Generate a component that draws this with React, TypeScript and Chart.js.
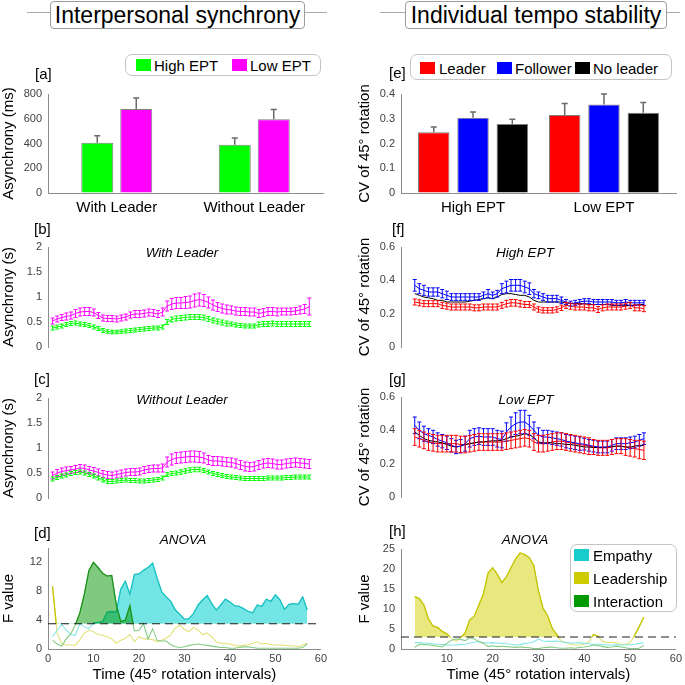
import React, { useEffect, useRef } from "react";
import { Chart, registerables } from "chart.js";

Chart.register(...registerables);

const FONT_FAMILY = "'Liberation Sans', Arial, Helvetica, sans-serif";
Chart.defaults.font.family = FONT_FAMILY;

// ---------------- data ----------------
const BAR_A_CATEGORIES = ["With Leader", "Without Leader"];
const BAR_A_HIGH = [406, 390];
const BAR_A_HIGH_ERR = [56, 55];
const BAR_A_LOW = [678, 595];
const BAR_A_LOW_ERR = [90, 80];
const BAR_A_YTICKS = [0, 200, 400, 600, 800];

const BAR_E_CATEGORIES = ["High EPT", "Low EPT"];
const BAR_E_POSITIONS = [1, 2];
const BAR_E_LEADER = [0.245, 0.315];
const BAR_E_LEADER_ERR = [0.022, 0.047];
const BAR_E_FOLLOWER = [0.304, 0.358];
const BAR_E_FOLLOWER_ERR = [0.023, 0.042];
const BAR_E_NOLEADER = [0.279, 0.324];
const BAR_E_NOLEADER_ERR = [0.019, 0.042];
const BAR_E_YTICKS = [0, 0.1, 0.2, 0.3, 0.4];

const TIME_LEFT = [1, 2, 3, 4, 5, 6, 7, 8, 9, 10, 11, 12, 13, 14, 15, 16, 17, 18, 19, 20, 21, 22, 23, 24, 25, 26, 27, 28, 29, 30, 31, 32, 33, 34, 35, 36, 37, 38, 39, 40, 41, 42, 43, 44, 45, 46, 47, 48, 49, 50, 51, 52, 53, 54, 55, 56, 57];
const TIME_RIGHT = [3, 4, 5, 6, 7, 8, 9, 10, 11, 12, 13, 14, 15, 16, 17, 18, 19, 20, 21, 22, 23, 24, 25, 26, 27, 28, 29, 30, 31, 32, 33, 34, 35, 36, 37, 38, 39, 40, 41, 42, 43, 44, 45, 46, 47, 48, 49, 50, 51, 52, 53];

// [b] With Leader
const B_LOW_MEAN = [0.52, 0.56, 0.59, 0.61, 0.63, 0.67, 0.70, 0.71, 0.71, 0.69, 0.63, 0.58, 0.57, 0.57, 0.56, 0.58, 0.60, 0.64, 0.66, 0.66, 0.67, 0.69, 0.68, 0.66, 0.70, 0.82, 0.86, 0.88, 0.88, 0.89, 0.90, 0.93, 0.95, 0.93, 0.89, 0.84, 0.80, 0.77, 0.75, 0.74, 0.72, 0.71, 0.71, 0.70, 0.70, 0.67, 0.69, 0.71, 0.71, 0.70, 0.71, 0.71, 0.71, 0.72, 0.74, 0.76, 0.81];
const B_LOW_ERR = [0.06, 0.06, 0.06, 0.07, 0.07, 0.08, 0.08, 0.08, 0.08, 0.07, 0.06, 0.06, 0.06, 0.06, 0.06, 0.06, 0.06, 0.06, 0.07, 0.07, 0.07, 0.07, 0.07, 0.07, 0.08, 0.10, 0.11, 0.11, 0.11, 0.12, 0.12, 0.13, 0.13, 0.12, 0.11, 0.10, 0.09, 0.09, 0.09, 0.08, 0.08, 0.08, 0.08, 0.08, 0.08, 0.08, 0.08, 0.08, 0.08, 0.08, 0.07, 0.07, 0.07, 0.07, 0.08, 0.09, 0.17];
const B_HIGH_MEAN = [0.38, 0.40, 0.42, 0.45, 0.47, 0.48, 0.46, 0.45, 0.43, 0.40, 0.37, 0.33, 0.31, 0.30, 0.30, 0.31, 0.32, 0.33, 0.34, 0.35, 0.36, 0.37, 0.38, 0.38, 0.40, 0.50, 0.55, 0.57, 0.58, 0.59, 0.60, 0.60, 0.60, 0.59, 0.56, 0.53, 0.51, 0.49, 0.47, 0.46, 0.44, 0.43, 0.42, 0.42, 0.42, 0.45, 0.46, 0.46, 0.47, 0.46, 0.46, 0.46, 0.46, 0.46, 0.46, 0.46, 0.46];
const B_HIGH_ERR = [0.04, 0.04, 0.04, 0.04, 0.04, 0.04, 0.04, 0.04, 0.04, 0.04, 0.04, 0.04, 0.035, 0.035, 0.035, 0.035, 0.04, 0.04, 0.04, 0.04, 0.04, 0.04, 0.04, 0.04, 0.04, 0.05, 0.05, 0.05, 0.05, 0.05, 0.05, 0.05, 0.05, 0.05, 0.05, 0.05, 0.05, 0.05, 0.05, 0.04, 0.04, 0.04, 0.04, 0.04, 0.04, 0.05, 0.05, 0.05, 0.05, 0.05, 0.05, 0.05, 0.05, 0.05, 0.05, 0.05, 0.05];

// [c] Without Leader
const C_LOW_MEAN = [0.45, 0.50, 0.53, 0.55, 0.56, 0.58, 0.60, 0.59, 0.56, 0.54, 0.51, 0.48, 0.46, 0.45, 0.47, 0.49, 0.51, 0.52, 0.52, 0.53, 0.56, 0.58, 0.59, 0.59, 0.60, 0.72, 0.77, 0.80, 0.81, 0.82, 0.83, 0.83, 0.82, 0.80, 0.76, 0.74, 0.74, 0.73, 0.72, 0.71, 0.69, 0.66, 0.63, 0.62, 0.63, 0.66, 0.69, 0.70, 0.69, 0.67, 0.67, 0.69, 0.70, 0.71, 0.70, 0.69, 0.68];
const C_LOW_ERR = [0.07, 0.07, 0.07, 0.07, 0.07, 0.07, 0.07, 0.07, 0.07, 0.07, 0.07, 0.07, 0.07, 0.07, 0.07, 0.07, 0.07, 0.07, 0.07, 0.07, 0.07, 0.07, 0.07, 0.07, 0.08, 0.10, 0.11, 0.11, 0.11, 0.11, 0.11, 0.11, 0.11, 0.10, 0.09, 0.09, 0.09, 0.09, 0.09, 0.09, 0.09, 0.09, 0.09, 0.09, 0.09, 0.09, 0.09, 0.09, 0.09, 0.09, 0.09, 0.09, 0.09, 0.09, 0.09, 0.09, 0.09];
const C_HIGH_MEAN = [0.38, 0.41, 0.44, 0.46, 0.49, 0.51, 0.52, 0.50, 0.47, 0.44, 0.40, 0.36, 0.33, 0.33, 0.34, 0.35, 0.36, 0.35, 0.35, 0.34, 0.34, 0.35, 0.36, 0.37, 0.40, 0.47, 0.49, 0.50, 0.52, 0.54, 0.56, 0.57, 0.57, 0.55, 0.52, 0.49, 0.47, 0.45, 0.43, 0.42, 0.41, 0.40, 0.39, 0.39, 0.39, 0.39, 0.39, 0.40, 0.40, 0.40, 0.40, 0.41, 0.41, 0.42, 0.42, 0.42, 0.42];
const C_HIGH_ERR = [0.04, 0.04, 0.04, 0.04, 0.04, 0.04, 0.04, 0.04, 0.04, 0.04, 0.04, 0.04, 0.04, 0.04, 0.04, 0.04, 0.04, 0.04, 0.04, 0.04, 0.04, 0.04, 0.04, 0.04, 0.04, 0.04, 0.04, 0.04, 0.045, 0.045, 0.045, 0.045, 0.045, 0.04, 0.04, 0.04, 0.04, 0.04, 0.04, 0.04, 0.04, 0.04, 0.04, 0.04, 0.04, 0.04, 0.04, 0.04, 0.04, 0.04, 0.04, 0.04, 0.04, 0.04, 0.04, 0.04, 0.04];

// [d] ANOVA (left)
const D_THRESHOLD = 3.5;
const D_EMPATHY = [1.7, 2.6, 3.4, 2.6, 2.0, 1.9, 3.5, 3.1, 2.8, 3.6, 3.7, 3.8, 5.1, 5.2, 5.1, 8.3, 9.4, 7.6, 10.3, 10.4, 10.9, 11.3, 11.9, 9.8, 7.9, 7.2, 6.6, 5.4, 4.8, 4.1, 4.2, 4.9, 6.1, 6.8, 7.4, 6.3, 5.4, 6.1, 6.9, 6.5, 6.0, 5.9, 5.6, 5.2, 5.0, 6.1, 5.9, 6.9, 6.6, 7.5, 6.8, 5.5, 6.2, 6.3, 6.2, 7.2, 5.4];
const D_LEADERSHIP = [8.7, 2.2, 0.8, 0.55, 0.55, 0.5, 1.3, 2.2, 2.6, 2.4, 2.0, 1.9, 1.7, 1.4, 0.8, 1.2, 1.5, 2.0, 1.0, 1.7, 1.4, 1.4, 1.3, 1.0, 1.2, 1.5, 2.0, 2.9, 3.3, 2.7, 2.4, 3.0, 2.6, 2.0, 2.2, 1.7, 1.0, 0.8, 0.8, 0.7, 0.5, 0.4, 0.5, 0.6, 0.8, 1.0, 0.7, 0.8, 0.6, 0.55, 0.55, 0.5, 0.45, 0.45, 0.3, 0.55, 0.8];
const D_INTERACTION = [1.2, 0.7, 0.4, 1.4, 2.1, 3.3, 5.0, 7.6, 10.9, 12.0, 11.3, 10.5, 10.1, 10.2, 6.2, 3.8, 4.0, 6.0, 2.5, 2.6, 3.5, 1.4, 2.8, 1.2, 1.1, 1.1, 0.6, 0.3, 0.2, 0.3, 0.5, 0.6, 0.7, 0.6, 0.5, 0.4, 0.3, 0.2, 0.2, 0.1, 0.1, 0.2, 0.3, 0.3, 0.2, 0.1, 0.1, 0.1, 0.1, 0.1, 0.1, 0.1, 0.1, 0.1, 0.1, 0.2, 0.7];
const D_YTICKS = [0, 4, 8, 12];

// [f] High EPT (right)
const F_LEADER = [0.27, 0.265, 0.26, 0.26, 0.26, 0.26, 0.25, 0.245, 0.24, 0.24, 0.24, 0.24, 0.24, 0.235, 0.235, 0.24, 0.24, 0.24, 0.24, 0.25, 0.26, 0.265, 0.265, 0.26, 0.255, 0.255, 0.24, 0.225, 0.22, 0.22, 0.22, 0.225, 0.235, 0.25, 0.245, 0.24, 0.24, 0.24, 0.235, 0.235, 0.225, 0.235, 0.24, 0.24, 0.24, 0.24, 0.245, 0.25, 0.235, 0.235, 0.23];
const F_LEADER_ERR = [0.018, 0.018, 0.018, 0.018, 0.018, 0.018, 0.018, 0.018, 0.018, 0.018, 0.018, 0.018, 0.018, 0.018, 0.018, 0.018, 0.018, 0.018, 0.018, 0.018, 0.02, 0.02, 0.02, 0.02, 0.018, 0.018, 0.018, 0.016, 0.016, 0.016, 0.016, 0.016, 0.016, 0.018, 0.018, 0.018, 0.018, 0.018, 0.018, 0.018, 0.018, 0.018, 0.018, 0.018, 0.018, 0.018, 0.018, 0.018, 0.018, 0.018, 0.018];
const F_FOLLOWER = [0.37, 0.35, 0.34, 0.33, 0.33, 0.33, 0.32, 0.31, 0.30, 0.30, 0.30, 0.30, 0.30, 0.30, 0.30, 0.31, 0.32, 0.31, 0.32, 0.35, 0.36, 0.37, 0.37, 0.37, 0.36, 0.35, 0.32, 0.31, 0.30, 0.29, 0.29, 0.29, 0.28, 0.27, 0.26, 0.265, 0.27, 0.275, 0.275, 0.27, 0.27, 0.27, 0.27, 0.27, 0.265, 0.265, 0.27, 0.265, 0.265, 0.265, 0.265];
const F_FOLLOWER_ERR = [0.035, 0.03, 0.03, 0.025, 0.025, 0.025, 0.025, 0.025, 0.02, 0.02, 0.02, 0.02, 0.02, 0.02, 0.02, 0.02, 0.025, 0.02, 0.02, 0.03, 0.035, 0.035, 0.035, 0.035, 0.035, 0.035, 0.025, 0.02, 0.02, 0.02, 0.02, 0.02, 0.02, 0.015, 0.015, 0.015, 0.015, 0.015, 0.015, 0.015, 0.015, 0.015, 0.015, 0.015, 0.015, 0.015, 0.015, 0.015, 0.015, 0.015, 0.015];
const F_NOLEADER = [0.32, 0.31, 0.30, 0.295, 0.29, 0.28, 0.28, 0.27, 0.27, 0.27, 0.27, 0.27, 0.275, 0.28, 0.285, 0.29, 0.295, 0.29, 0.30, 0.315, 0.32, 0.32, 0.315, 0.31, 0.31, 0.30, 0.28, 0.27, 0.27, 0.27, 0.27, 0.27, 0.27, 0.265, 0.26, 0.26, 0.26, 0.26, 0.255, 0.255, 0.255, 0.255, 0.255, 0.25, 0.25, 0.25, 0.25, 0.25, 0.25, 0.255, 0.255];

// [g] Low EPT (right)
const G_LEADER = [0.36, 0.35, 0.34, 0.33, 0.325, 0.32, 0.32, 0.32, 0.32, 0.32, 0.315, 0.315, 0.32, 0.325, 0.33, 0.33, 0.33, 0.33, 0.33, 0.33, 0.335, 0.34, 0.345, 0.35, 0.355, 0.35, 0.33, 0.32, 0.32, 0.325, 0.33, 0.335, 0.335, 0.33, 0.325, 0.32, 0.315, 0.31, 0.305, 0.30, 0.295, 0.295, 0.295, 0.30, 0.305, 0.305, 0.30, 0.295, 0.29, 0.285, 0.28];
const G_LEADER_ERR = [0.05, 0.05, 0.05, 0.05, 0.05, 0.05, 0.05, 0.05, 0.05, 0.05, 0.05, 0.05, 0.05, 0.05, 0.05, 0.05, 0.05, 0.05, 0.05, 0.05, 0.05, 0.05, 0.05, 0.05, 0.05, 0.05, 0.05, 0.05, 0.05, 0.05, 0.05, 0.05, 0.05, 0.05, 0.05, 0.05, 0.05, 0.05, 0.05, 0.045, 0.045, 0.045, 0.045, 0.045, 0.045, 0.045, 0.05, 0.05, 0.05, 0.055, 0.055];
const G_FOLLOWER = [0.43, 0.40, 0.38, 0.37, 0.36, 0.345, 0.335, 0.325, 0.31, 0.30, 0.305, 0.32, 0.35, 0.36, 0.365, 0.36, 0.36, 0.36, 0.35, 0.345, 0.39, 0.42, 0.44, 0.45, 0.45, 0.43, 0.40, 0.37, 0.36, 0.36, 0.355, 0.35, 0.345, 0.335, 0.33, 0.325, 0.32, 0.317, 0.31, 0.305, 0.30, 0.30, 0.30, 0.31, 0.32, 0.32, 0.32, 0.325, 0.33, 0.34, 0.35];
const G_FOLLOWER_ERR = [0.05, 0.05, 0.045, 0.04, 0.04, 0.04, 0.04, 0.04, 0.04, 0.04, 0.04, 0.045, 0.05, 0.05, 0.05, 0.05, 0.05, 0.05, 0.05, 0.05, 0.055, 0.06, 0.065, 0.07, 0.07, 0.06, 0.05, 0.045, 0.04, 0.04, 0.04, 0.04, 0.04, 0.04, 0.04, 0.04, 0.04, 0.035, 0.035, 0.035, 0.035, 0.035, 0.035, 0.035, 0.035, 0.035, 0.035, 0.035, 0.035, 0.035, 0.035];
const G_NOLEADER = [0.39, 0.37, 0.35, 0.34, 0.335, 0.33, 0.325, 0.315, 0.305, 0.30, 0.305, 0.315, 0.32, 0.325, 0.33, 0.33, 0.335, 0.337, 0.337, 0.34, 0.35, 0.36, 0.365, 0.37, 0.38, 0.375, 0.355, 0.33, 0.325, 0.325, 0.325, 0.32, 0.32, 0.315, 0.315, 0.31, 0.305, 0.30, 0.30, 0.297, 0.297, 0.297, 0.30, 0.302, 0.305, 0.305, 0.30, 0.30, 0.305, 0.31, 0.31];
const FG_YTICKS = [0, 0.2, 0.4, 0.6];
const BC_YTICKS = [0, 0.5, 1, 1.5, 2];

// [h] ANOVA (right)
const H_THRESHOLD = 3.0;
const H_FILL_UNTIL = 36;
const H_EMPATHY = [1.6, 1.6, 1.5, 1.4, 1.3, 1.2, 1.1, 1.0, 1.0, 1.0, 1.1, 1.2, 1.5, 1.7, 1.8, 1.6, 1.5, 1.6, 1.5, 1.4, 1.3, 1.2, 1.0, 1.1, 1.4, 1.5, 1.8, 2.5, 2.0, 1.9, 1.9, 2.0, 1.8, 1.6, 1.5, 1.5, 1.6, 1.4, 1.3, 1.2, 1.2, 1.1, 1.0, 1.0, 1.1, 1.0, 1.0, 1.1, 1.2, 1.4, 1.5];
const H_LEADERSHIP = [13.1, 12.6, 11.0, 7.5, 5.7, 5.4, 4.4, 3.8, 2.6, 1.9, 2.8, 4.0, 7.3, 8.2, 11.0, 13.8, 19.0, 20.3, 18.7, 16.6, 18.0, 20.3, 22.5, 24.0, 23.6, 22.8, 20.8, 14.5, 10.2, 8.3, 5.2, 3.6, 2.0, 1.6, 1.2, 1.0, 1.0, 1.2, 1.8, 3.6, 3.2, 1.9, 1.6, 1.7, 1.6, 1.2, 1.2, 1.6, 3.4, 5.6, 8.0];
const H_INTERACTION = [0.4, 1.2, 1.1, 1.0, 0.9, 0.7, 0.5, 1.4, 2.2, 2.5, 2.4, 2.1, 2.8, 2.5, 1.9, 1.4, 0.6, 0.8, 0.6, 0.7, 0.6, 0.5, 0.4, 0.5, 0.4, 0.3, 0.1, 0.1, 0.3, 0.4, 0.5, 0.3, 0.2, 0.2, 0.3, 0.2, 0.4, 0.5, 0.7, 1.0, 0.8, 0.6, 0.4, 0.5, 0.7, 0.5, 0.3, 0.1, 0.1, 0.2, 0.9];
const H_YTICKS = [0, 5, 10, 15, 20, 25];

const D_XTICKS = [0, 10, 20, 30, 40, 50, 60];
const H_XTICKS = [10, 20, 30, 40, 50, 60];
const TIME_TITLE = "Time (45° rotation intervals)";

// ---------------- styles ----------------
const AXIS_COLOR = "#8c8c8c";
const TICK_COLOR = "#404040";
const GREEN = "#00ff00";
const MAGENTA = "#ff00ff";
const RED = "#ff0000";
const BLUE = "#0000ff";
const BLACK = "#000000";
const CYAN_S = { light: "#86e6e6", dark: "#17c0c0", fill: "rgba(0,208,208,0.55)" };
const GREEN_S = { light: "#86cc86", dark: "#17921a", fill: "rgba(0,150,0,0.5)" };
const YELLOW_S = { light: "#e2e27a", dark: "#c4c400", fill: "rgba(210,210,0,0.5)" };

const fmt = (v: any) => String(Math.round(Number(v) * 1000) / 1000);

// ---------------- plugins ----------------
const errorBarPlugin = {
  id: "errorBars",
  afterDatasetsDraw(chart: any) {
    const ctx = chart.ctx;
    chart.data.datasets.forEach((ds: any, di: number) => {
      if (!ds.errors) return;
      const meta = chart.getDatasetMeta(di);
      const ys = chart.scales[meta.yAxisID];
      ctx.save();
      ctx.strokeStyle = ds.errorColor || ds.borderColor;
      ctx.lineWidth = ds.errorWidth || 1;
      const cw = ds.capWidth || 4;
      meta.data.forEach((el: any, i: number) => {
        const raw = ds.data[i];
        const v = typeof raw === "number" ? raw : raw.y;
        const e = ds.errors[i];
        const x = el.x;
        const yt = ys.getPixelForValue(v + e);
        const yb = ys.getPixelForValue(ds.upperOnly ? v : v - e);
        ctx.beginPath();
        ctx.moveTo(x, yt);
        ctx.lineTo(x, yb);
        ctx.moveTo(x - cw / 2, yt);
        ctx.lineTo(x + cw / 2, yt);
        if (!ds.upperOnly) {
          ctx.moveTo(x - cw / 2, yb);
          ctx.lineTo(x + cw / 2, yb);
        }
        ctx.stroke();
      });
      ctx.restore();
    });
  },
};

const clipAbovePlugin = {
  id: "clipAbove",
  beforeDatasetDraw(chart: any, args: any) {
    const ds = chart.data.datasets[args.index];
    if (ds.clipAbove == null) return;
    const y = chart.scales.y.getPixelForValue(ds.clipAbove);
    const a = chart.chartArea;
    chart.ctx.save();
    chart.ctx.beginPath();
    chart.ctx.rect(a.left - 5, a.top - 20, a.right - a.left + 10, y - a.top + 20);
    chart.ctx.clip();
  },
  afterDatasetDraw(chart: any, args: any) {
    const ds = chart.data.datasets[args.index];
    if (ds.clipAbove == null) return;
    chart.ctx.restore();
  },
};

// ---------------- config helpers ----------------
function yAxis(min: number, max: number, ticks: number[], title: string, width: number, pad: number) {
  return {
    type: "linear",
    position: "left",
    min,
    max,
    grid: { display: true, drawOnChartArea: false, drawTicks: false },
    border: { display: true, color: AXIS_COLOR, width: 1 },
    ticks: { color: TICK_COLOR, font: { size: 11 }, padding: pad, callback: fmt, autoSkip: false },
    afterBuildTicks: (s: any) => {
      s.ticks = ticks.map((v) => ({ value: v }));
    },
    afterFit: (s: any) => {
      s.width = width;
    },
    title: { display: true, text: title, color: "#000", font: { size: 15 }, padding: { top: 0, bottom: 0 } },
  };
}

function timeAxis(ticks: number[] | null) {
  if (!ticks) return { type: "linear", min: 0, max: 60, display: false };
  return {
    type: "linear",
    min: 0,
    max: 60,
    grid: { display: true, drawOnChartArea: false, drawTicks: false },
    border: { display: true, color: AXIS_COLOR, width: 1 },
    ticks: { color: TICK_COLOR, font: { size: 11 }, padding: 3, autoSkip: false, maxRotation: 0, callback: fmt },
    afterBuildTicks: (s: any) => {
      s.ticks = ticks.map((v) => ({ value: v }));
    },
    afterFit: (s: any) => {
      s.height = 36;
    },
    title: { display: true, text: TIME_TITLE, color: "#000", font: { size: 15 }, padding: { top: 0, bottom: 1 } },
  };
}

function baseOptions(pad: any, scales: any) {
  return {
    responsive: false,
    animation: false,
    events: [],
    layout: { padding: { left: 0, ...pad } },
    plugins: { legend: { display: false }, tooltip: { enabled: false } },
    scales,
  };
}

function errLine(xs: number[], ys: number[], errs: number[] | null, color: string) {
  return {
    data: xs.map((x, i) => ({ x, y: ys[i] })),
    borderColor: color,
    backgroundColor: color,
    borderWidth: 1,
    pointRadius: 0,
    tension: 0,
    fill: false,
    errors: errs,
    errorColor: color,
    capWidth: 4,
  };
}

function anovaSeries(xs: number[], ys: number[], c: any, T: number, fillUntil: number | null) {
  const pts = () => xs.map((x, i) => ({ x, y: ys[i] }));
  const out: any[] = [
    { data: pts(), borderColor: c.dark, borderWidth: 1.3, pointRadius: 0, tension: 0, fill: false, clipAbove: T },
    { data: pts(), borderColor: c.light, borderWidth: 1.1, pointRadius: 0, tension: 0, fill: false },
  ];
  if (fillUntil !== null) {
    out.push({
      data: pts().filter((p) => p.x <= fillUntil),
      borderColor: "rgba(0,0,0,0)",
      borderWidth: 0,
      pointRadius: 0,
      tension: 0,
      fill: { target: { value: T }, above: c.fill, below: "rgba(0,0,0,0)" },
    });
  }
  return out;
}

function thresholdLine(T: number) {
  return {
    data: [
      { x: 0, y: T },
      { x: 60, y: T },
    ],
    borderColor: "#1e1e1e",
    borderWidth: 1.2,
    borderDash: [8, 5],
    pointRadius: 0,
    fill: false,
  };
}

const barX = (labels: string[]) => ({
  type: "category",
  labels,
  grid: { display: true, drawOnChartArea: false, drawTicks: false },
  border: { display: true, color: AXIS_COLOR, width: 1 },
  ticks: { color: "#000", font: { size: 15 }, padding: 6 },
  afterFit: (s: any) => {
    s.height = 27;
  },
});

function buildConfigs(): any[] {
  const plugins = [errorBarPlugin, clipAbovePlugin];
  const barStyle = { borderColor: "#7f7f7f", borderWidth: 1, upperOnly: true, errorColor: "#6a6a6a", errorWidth: 1.5, capWidth: 6 };

  const a = {
    type: "bar",
    data: {
      labels: BAR_A_CATEGORIES,
      datasets: [
        { data: BAR_A_HIGH, backgroundColor: GREEN, errors: BAR_A_HIGH_ERR, ...barStyle },
        { data: BAR_A_LOW, backgroundColor: MAGENTA, errors: BAR_A_LOW_ERR, ...barStyle },
      ],
    },
    options: {
      ...baseOptions({ top: 14, right: 7, bottom: 0 }, { x: barX(BAR_A_CATEGORIES), y: yAxis(0, 800, BAR_A_YTICKS, "Asynchrony (ms)", 48, 6) }),
      datasets: { bar: { categoryPercentage: 0.567, barPercentage: 0.82 } },
    },
    plugins,
  };

  const ePts = (vals: number[]) => BAR_E_POSITIONS.map((p, i) => ({ x: p, y: vals[i] }));
  const e = {
    type: "bar",
    data: {
      datasets: [
        { data: ePts(BAR_E_LEADER), backgroundColor: RED, errors: BAR_E_LEADER_ERR, ...barStyle },
        { data: ePts(BAR_E_FOLLOWER), backgroundColor: BLUE, errors: BAR_E_FOLLOWER_ERR, ...barStyle },
        { data: ePts(BAR_E_NOLEADER), backgroundColor: BLACK, errors: BAR_E_NOLEADER_ERR, ...barStyle },
      ],
    },
    options: {
      ...baseOptions(
        { top: 14, right: 9, bottom: 0 },
        {
          x: {
            type: "linear",
            min: 0.45,
            max: 2.55,
            offset: false,
            grid: { display: true, drawOnChartArea: false, drawTicks: false, offset: false },
            border: { display: true, color: AXIS_COLOR, width: 1 },
            ticks: { color: "#000", font: { size: 15 }, padding: 6, autoSkip: false, maxRotation: 0, callback: (v: any) => BAR_E_CATEGORIES[BAR_E_POSITIONS.indexOf(Number(v))] ?? "" },
            afterBuildTicks: (s: any) => {
              s.ticks = BAR_E_POSITIONS.map((v) => ({ value: v }));
            },
            afterFit: (s: any) => {
              s.height = 27;
            },
          },
          y: yAxis(0, 0.4, BAR_E_YTICKS, "CV of 45° rotation", 45, 6),
        }
      ),
      datasets: { bar: { categoryPercentage: 0.9, barPercentage: 0.8 } },
    },
    plugins,
  };

  const lineChart = (datasets: any[], y: any, pad: any, xTicks: number[] | null) => ({
    type: "line",
    data: { datasets },
    options: baseOptions(pad, { x: timeAxis(xTicks), y }),
    plugins,
  });

  const b = lineChart(
    [errLine(TIME_LEFT, B_LOW_MEAN, B_LOW_ERR, MAGENTA), errLine(TIME_LEFT, B_HIGH_MEAN, B_HIGH_ERR, GREEN)],
    yAxis(0, 2, BC_YTICKS, "Asynchrony (s)", 48, 6),
    { top: 14, right: 7, bottom: 14 },
    null
  );
  const c = lineChart(
    [errLine(TIME_LEFT, C_LOW_MEAN, C_LOW_ERR, MAGENTA), errLine(TIME_LEFT, C_HIGH_MEAN, C_HIGH_ERR, GREEN)],
    yAxis(0, 2, BC_YTICKS, "Asynchrony (s)", 48, 6),
    { top: 14, right: 7, bottom: 14 },
    null
  );
  const d = lineChart(
    [
      thresholdLine(D_THRESHOLD),
      ...anovaSeries(TIME_LEFT, D_INTERACTION, GREEN_S, D_THRESHOLD, 1000),
      ...anovaSeries(TIME_LEFT, D_EMPATHY, CYAN_S, D_THRESHOLD, 1000),
      ...anovaSeries(TIME_LEFT, D_LEADERSHIP, YELLOW_S, D_THRESHOLD, null),
    ],
    yAxis(0, 14, D_YTICKS, "F value", 48, 6),
    { top: 14, right: 7, bottom: 0 },
    D_XTICKS
  );
  const f = lineChart(
    [errLine(TIME_RIGHT, F_LEADER, F_LEADER_ERR, RED), errLine(TIME_RIGHT, F_NOLEADER, null, BLACK), errLine(TIME_RIGHT, F_FOLLOWER, F_FOLLOWER_ERR, BLUE)].reverse(),
    yAxis(0, 0.6, FG_YTICKS, "CV of 45° rotation", 45, 6),
    { top: 14, right: 9, bottom: 14 },
    null
  );
  const g = lineChart(
    [errLine(TIME_RIGHT, G_LEADER, G_LEADER_ERR, RED), errLine(TIME_RIGHT, G_NOLEADER, null, BLACK), errLine(TIME_RIGHT, G_FOLLOWER, G_FOLLOWER_ERR, BLUE)].reverse(),
    yAxis(0, 0.6, FG_YTICKS, "CV of 45° rotation", 45, 6),
    { top: 14, right: 9, bottom: 14 },
    null
  );
  const h = lineChart(
    [
      thresholdLine(H_THRESHOLD),
      ...anovaSeries(TIME_RIGHT, H_INTERACTION, GREEN_S, H_THRESHOLD, null),
      ...anovaSeries(TIME_RIGHT, H_EMPATHY, CYAN_S, H_THRESHOLD, null),
      ...anovaSeries(TIME_RIGHT, H_LEADERSHIP, YELLOW_S, H_THRESHOLD, H_FILL_UNTIL),
    ],
    yAxis(0, 25, H_YTICKS, "F value", 45, 6),
    { top: 14, right: 9, bottom: 0 },
    H_XTICKS
  );
  return [a, b, c, d, e, f, g, h];
}

const CANVASES = [
  { left: 0, top: 80, width: 330, height: 140 },
  { left: 0, top: 233, width: 330, height: 128 },
  { left: 0, top: 384, width: 330, height: 128 },
  { left: 0, top: 534, width: 330, height: 151 },
  { left: 356, top: 80, width: 329, height: 140 },
  { left: 356, top: 233, width: 329, height: 128 },
  { left: 356, top: 383, width: 329, height: 128 },
  { left: 356, top: 535, width: 329, height: 150 },
];

// ---------------- overlay components ----------------
function Txt(props: { x: number; y: number; text: string; size?: number; italic?: boolean; center?: boolean }) {
  const { x, y, text, size = 15, italic = false, center = false } = props;
  return (
    <div
      style={{
        position: "absolute",
        left: x,
        top: y,
        transform: center ? "translate(-50%,-50%)" : "translateY(-50%)",
        fontSize: size,
        fontStyle: italic ? "italic" : "normal",
        whiteSpace: "nowrap",
        lineHeight: 1,
        color: "#000",
      }}
    >
      {text}
    </div>
  );
}

function Sq(props: { x: number; y: number; color: string }) {
  return <div style={{ position: "absolute", left: props.x, top: props.y, width: 15, height: 12, background: props.color }} />;
}

function Box(props: { x: number; y: number; w: number; h: number; r: number }) {
  return (
    <div
      style={{
        position: "absolute",
        left: props.x,
        top: props.y,
        width: props.w,
        height: props.h,
        boxSizing: "border-box",
        border: "1px solid #c4c4c4",
        borderRadius: props.r,
        background: "#fff",
      }}
    />
  );
}

function HLine(props: { x1: number; x2: number; y: number }) {
  return <div style={{ position: "absolute", left: props.x1, top: props.y, width: props.x2 - props.x1, height: 1, background: "#a8a8a8" }} />;
}

function Section(props: { x: number; w: number; text: string; l1: number; r2: number }) {
  return (
    <>
      <HLine x1={props.l1} x2={props.x} y={12} />
      <HLine x1={props.x + props.w} x2={props.r2} y={12} />
      <div
        style={{
          position: "absolute",
          left: props.x,
          top: 1,
          width: props.w,
          height: 28,
          boxSizing: "border-box",
          border: "1px solid #9c9c9c",
          borderRadius: 4,
          display: "flex",
          alignItems: "center",
          justifyContent: "center",
          fontSize: 23,
          whiteSpace: "nowrap",
          color: "#000",
        }}
      >
        {props.text}
      </div>
    </>
  );
}

export default function App() {
  const refs = useRef<(HTMLCanvasElement | null)[]>([]);

  useEffect(() => {
    const configs = buildConfigs();
    const charts = configs.map((cfg, i) => new Chart(refs.current[i] as HTMLCanvasElement, cfg));
    return () => charts.forEach((ch) => ch.destroy());
  }, []);

  return (
    <div
      style={{
        position: "absolute",
        left: 0,
        top: 0,
        width: 685,
        height: 685,
        overflow: "hidden",
        background: "#fff",
        fontFamily: FONT_FAMILY,
      }}
    >
      {CANVASES.map((g, i) => (
        <canvas
          key={i}
          ref={(el) => {
            refs.current[i] = el;
          }}
          width={g.width}
          height={g.height}
          style={{ position: "absolute", left: g.left, top: g.top, width: g.width, height: g.height }}
        />
      ))}

      <Section x={50} w={255} text="Interpersonal synchrony" l1={27} r2={327} />
      <Section x={405} w={262} text="Individual tempo stability" l1={380} r2={680} />

      {/* legend a */}
      <Box x={125} y={54} w={196} h={22} r={7} />
      <Sq x={136} y={59} color={GREEN} />
      <Txt x={154} y={65} text="High EPT" />
      <Sq x={232} y={59} color={MAGENTA} />
      <Txt x={250} y={65} text="Low EPT" />

      {/* legend e */}
      <Box x={410} y={54} w={262} h={26} r={7} />
      <Sq x={420} y={62} color={RED} />
      <Txt x={439} y={68} text="Leader" />
      <Sq x={497} y={62} color={BLUE} />
      <Txt x={515} y={68} text="Follower" />
      <Sq x={575} y={62} color={BLACK} />
      <Txt x={593} y={68} text="No leader" />

      {/* legend h */}
      <Box x={570} y={544} w={107} h={68} r={7} />
      <Sq x={574} y={549} color="#19cccc" />
      <Txt x={593} y={555} text="Empathy" />
      <Sq x={574} y={572} color="#cccc00" />
      <Txt x={593} y={578} text="Leadership" />
      <Sq x={574} y={595} color="#009900" />
      <Txt x={593} y={601} text="Interaction" />

      {/* panel letters */}
      <Txt x={35} y={73} text="[a]" />
      <Txt x={34} y={228} text="[b]" />
      <Txt x={34} y={378} text="[c]" />
      <Txt x={34} y={532} text="[d]" />
      <Txt x={389} y={72} text="[e]" />
      <Txt x={392} y={228} text="[f]" />
      <Txt x={389} y={378} text="[g]" />
      <Txt x={389} y={530} text="[h]" />

      {/* subplot titles */}
      <Txt x={182} y={253} text="With Leader" size={13.5} italic center />
      <Txt x={182} y={400} text="Without Leader" size={13.5} italic center />
      <Txt x={183} y={540} text="ANOVA" size={13.5} italic center />
      <Txt x={525} y={253} text="High EPT" size={13.5} italic center />
      <Txt x={526} y={400} text="Low EPT" size={13.5} italic center />
      <Txt x={525} y={540} text="ANOVA" size={13.5} italic center />
    </div>
  );
}
